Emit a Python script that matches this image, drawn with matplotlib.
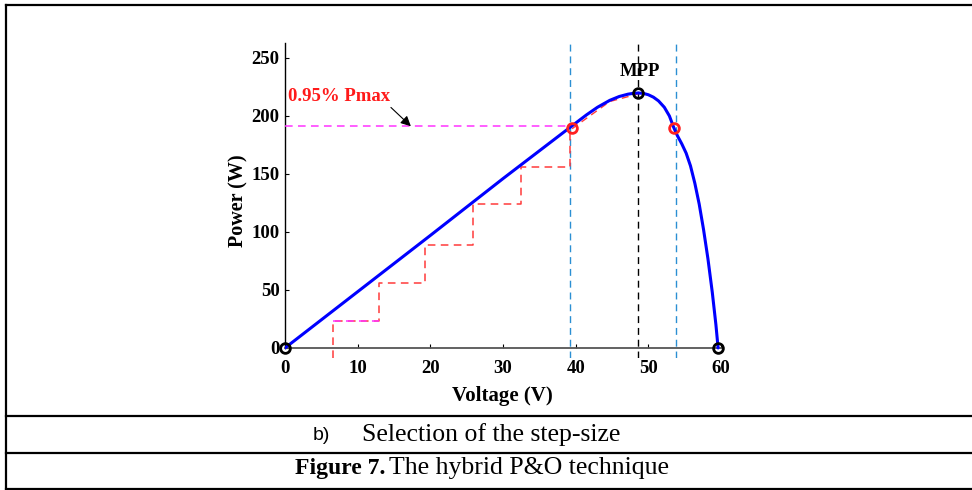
import matplotlib
matplotlib.use("Agg")
import matplotlib.pyplot as plt
from matplotlib.lines import Line2D

# ---- data ----
pv_v = [0, 10, 20, 30, 39.4, 41.5, 43.0, 44.7, 46.0, 47.2, 48.0, 48.6, 49.3, 50.0, 50.7, 51.4, 52.2, 52.9, 53.5,
        54.0, 54.6, 55.2, 55.8, 56.4, 57.0, 57.6, 58.2, 58.8, 59.3, 59.6]
pv_p = [0, 48.5, 97, 146, 191, 201, 207.5, 213.5, 216.8, 218.8, 219.6, 219.8, 219.5, 218.3, 216.2, 213.0, 207.5, 200.0, 190,
        183, 176, 168, 157, 142, 124, 102, 77, 48, 20, 0]

step_v = [6.6, 13.0, 19.3, 25.9, 32.5, 39.2]
step_p = [23, 56, 89, 124, 156, 190]

vline_blue = [39.2, 53.8]
vline_mpp = 48.6
p_095 = 191
mpp_v, mpp_p = 48.6, 219.8
red_pts_v = [39.5, 53.5]
red_pts_p = [190, 190]
black_pts_v = [0, 59.6]
black_pts_p = [0, 0]

x_ticks = [0, 10, 20, 30, 40, 50, 60]
y_ticks = [0, 50, 100, 150, 200, 250]

W, H = 972, 490
fig = plt.figure(figsize=(W / 100, H / 100), dpi=100)

serif = "Liberation Serif"
YMIN, YMAX = -9, 263
x0p, x1p = 285, 721
ytop, ybot = 42.9, 358.4
ax = fig.add_axes([x0p / W, 1 - ybot / H, (x1p - x0p) / W, (ybot - ytop) / H])
ax.set_xlim(0, 60)
ax.set_ylim(YMIN, YMAX)
ax.patch.set_alpha(0)

for s in ["top", "right"]:
    ax.spines[s].set_visible(False)
ax.spines["bottom"].set_position(("data", 0))
ax.spines["bottom"].set_color("#555555")
ax.spines["bottom"].set_linewidth(1.3)
ax.spines["left"].set_bounds(0, YMAX)
ax.spines["left"].set_linewidth(1.0)

ax.set_xticks(x_ticks)
ax.set_yticks(y_ticks)
ax.tick_params(direction="in", length=3, width=0.8, pad=4)
ax.tick_params(axis="x", pad=9)
for lab in ax.get_xticklabels() + ax.get_yticklabels():
    lab.set_fontfamily(serif)
    lab.set_fontweight("bold")
    lab.set_fontsize(13.5)

ax.set_xlabel("Voltage (V)", fontfamily=serif, fontweight="bold", fontsize=15, labelpad=2)
ax.set_ylabel("Power (W)", fontfamily=serif, fontweight="bold", fontsize=14.5, labelpad=8)
ax.xaxis.set_label_coords(0.498, -0.088)
ax.yaxis.set_label_coords(-0.083, 0.5)

dash = (0, (5, 3.5))
blue_dash = "#2b8fd3"
for v in vline_blue:
    ax.axvline(v, color=blue_dash, lw=1.0, ls=dash, zorder=2)
ax.axvline(vline_mpp, color="black", lw=1.0, ls=dash, zorder=2)

# staircase
xs, ys = [step_v[0]], [YMIN]
for i in range(len(step_v)):
    xs.append(step_v[i]); ys.append(step_p[i])
    if i + 1 < len(step_v):
        xs.append(step_v[i + 1]); ys.append(step_p[i])
ax.plot(xs, ys, color="#ff3b3b", lw=1.1, ls=dash, zorder=3, clip_on=False)
ax.plot([step_v[0], step_v[1]], [step_p[0], step_p[0]], color="#ff33ff", lw=1.1, ls=dash, zorder=3)
ax.plot([39.5, 44.7, 48.6], [189, 212.5, 219], color="#ff3b3b", lw=1.0, ls=dash, zorder=3)

ax.plot([0, 39.5], [p_095, p_095], color="#ff33ff", lw=1.1, ls=dash, zorder=3)

ax.plot(pv_v, pv_p, color="#0000ff", lw=2.2, zorder=4, solid_capstyle="round", solid_joinstyle="round")

ax.plot(red_pts_v, red_pts_p, "o", ms=7, mfc="none", mec="#ff2020", mew=2, zorder=5)
ax.plot(black_pts_v + [mpp_v], black_pts_p + [mpp_p], "o", ms=7, mfc="none", mec="black",
        mew=2, zorder=5, clip_on=False)

ax.text(48.8, 238, "MPP", fontfamily=serif, fontweight="bold", fontsize=13.5, ha="center", va="center")
ax.text(0.4, 217, "0.95% Pmax", fontfamily=serif, fontweight="bold", fontsize=13.5, color="#ff1a1a",
        ha="left", va="center")
ax.annotate("", xy=(17.6, 189.5), xytext=(14.3, 209),
            arrowprops=dict(arrowstyle="-|>", color="black", lw=0.8, mutation_scale=15))

def hline(y, xa=6, xb=W):
    fig.add_artist(Line2D([xa / W, xb / W], [1 - y / H, 1 - y / H], color="black", lw=1.6))

def vline(x, ya, yb):
    fig.add_artist(Line2D([x / W, x / W], [1 - ya / H, 1 - yb / H], color="black", lw=1.6))

hline(5)
hline(416)
hline(453)
hline(489)
vline(6, 5, 489)

fig.text(313 / W, 1 - 435 / H, "b)", fontfamily="Liberation Sans", fontsize=14, ha="left", va="center")
fig.text(362 / W, 1 - 435 / H, "Selection of the step-size", fontfamily=serif, fontsize=18.5,
         ha="left", va="center")
fig.text(295 / W, 1 - 468 / H, "Figure 7.", fontfamily=serif, fontweight="bold", fontsize=17,
         ha="left", va="center")
fig.text(389 / W, 1 - 468 / H, "The hybrid P&O technique", fontfamily=serif, fontsize=18.5,
         ha="left", va="center")

fig.savefig("out.png", dpi=100)
